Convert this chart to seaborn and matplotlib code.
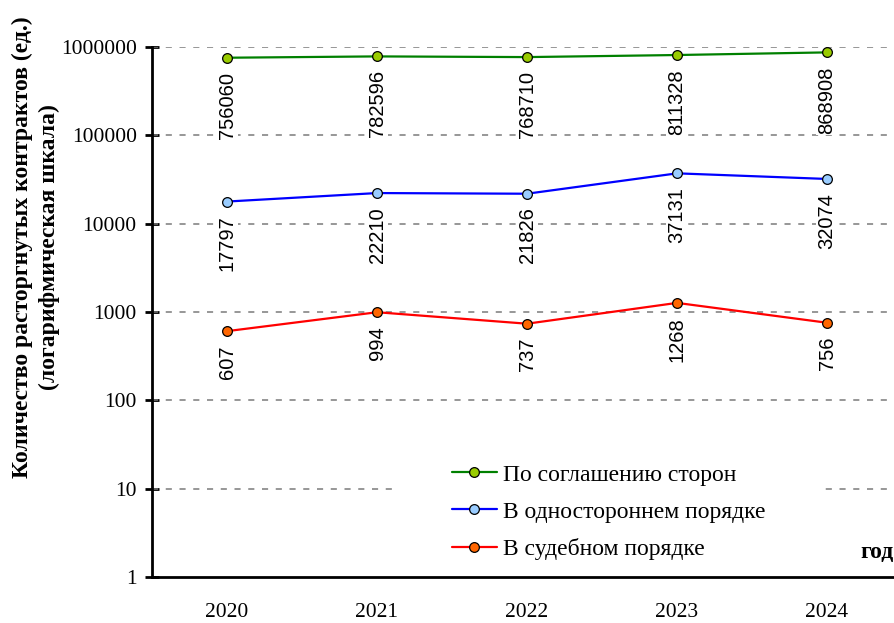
import matplotlib
matplotlib.use("Agg")
import matplotlib.pyplot as plt
import seaborn as sns
import numpy as np
import pandas as pd
from matplotlib.patches import Rectangle
from matplotlib.ticker import FixedLocator, FuncFormatter

years = ["2020", "2021", "2022", "2023", "2024"]
agreement = [756060, 782596, 768710, 811328, 868908]
unilateral = [17797, 22210, 21826, 37131, 32074]
judicial = [607, 994, 737, 1268, 756]
series_names = ["По соглашению сторон", "В одностороннем порядке", "В судебном порядке"]
y_ticks = [1, 10, 100, 1000, 10000, 100000, 1000000]

sns.set_theme(style="white")
plt.rcParams['font.family'] = ['Liberation Serif', 'DejaVu Serif']

W, H = 894, 623
fig = plt.figure(figsize=(W / 100, H / 100), dpi=100)
ax = fig.add_axes([152 / W, (H - 577) / H, 750 / W, 530 / H])

line_colors = ["#008000", "#0000FF", "#FF0000"]
face_colors = ["#99CC00", "#99CCFF", "#FF6600"]
xpos = np.arange(len(years))

for vals, name, lc, fc in zip([agreement, unilateral, judicial], series_names, line_colors, face_colors):
    df = pd.DataFrame({"x": xpos, "y": vals})
    sns.lineplot(data=df, x="x", y="y", ax=ax, color=lc, linewidth=1.6, marker="o",
                 markersize=7, markerfacecolor=fc, markeredgecolor="black",
                 markeredgewidth=0.9, label=name, zorder=4)
    for x, v in zip(xpos, vals):
        ax.annotate(str(v), (x, v), xytext=(0, -10), textcoords="offset points",
                    rotation=90, ha="center", va="top", fontsize=14.5, color="black",
                    family=["Liberation Sans", "DejaVu Sans"],
                    bbox=dict(boxstyle="square,pad=0.05", fc="white", ec="none"), zorder=3)

ax.set_yscale("log")
ax.set_ylim(1, 1000000)
ax.set_xlim(-0.5, len(years) - 0.5)

ax.yaxis.set_major_locator(FixedLocator(y_ticks))
ax.yaxis.set_major_formatter(FuncFormatter(lambda v, p: f"{int(round(v))}"))
ax.yaxis.set_minor_locator(FixedLocator([]))
ax.set_xticks(xpos)
ax.set_xticklabels(years)
ax.set_xticks(np.arange(-0.5, len(years) + 0.5, 1), minor=True)
ax.tick_params(axis="x", which="major", length=0, pad=19, labelsize=15.5, colors="black")
ax.tick_params(axis="x", which="minor", length=8, width=2, direction="out", color="black")
ax.tick_params(axis="y", which="major", length=10, width=2, direction="inout", pad=6,
               labelsize=15.5, colors="black", left=True)

for yv in y_ticks[1:]:
    ax.axhline(yv, color="#7a7a7a", linestyle=(0, (4, 5)), linewidth=1.1, zorder=1)

ax.add_patch(Rectangle((1.12, 4), 3.967 - 1.12, 30 - 4, facecolor="white", edgecolor="none", zorder=1.5))

for s in ["top", "right"]:
    ax.spines[s].set_visible(False)
for s in ["left", "bottom"]:
    ax.spines[s].set_color("black")
    ax.spines[s].set_linewidth(2)
ax.set_xlabel("")
ax.set_ylabel("")

leg = ax.legend(loc="upper left", bbox_to_anchor=(452 / W, 1 - 464 / H), bbox_transform=fig.transFigure,
                frameon=False, fontsize=17, borderpad=0, handlelength=1.9, handletextpad=0.25,
                labelspacing=0.66, borderaxespad=0)
for t in leg.get_texts():
    t.set_color("black")

fig.text(36 / W, 1 - 247 / H, "Количество расторгнутых контрактов (ед.)\n(логарифмическая шкала)",
         rotation=90, ha="center", va="center", multialignment="center",
         fontsize=17, fontweight="bold", color="black", linespacing=1.35)
fig.text(860 / W, 1 - 553 / H, "год", ha="left", va="center", fontsize=17, fontweight="bold", color="black")

fig.savefig("out.png", dpi=100)
